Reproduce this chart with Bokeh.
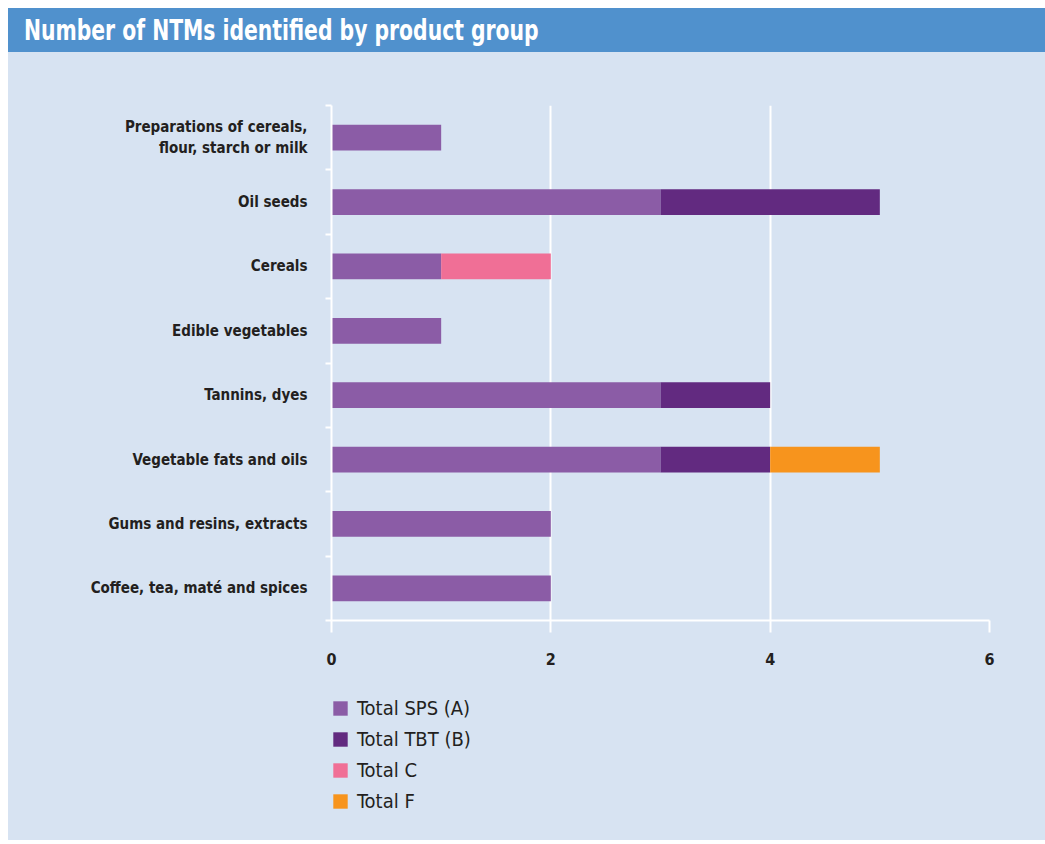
from bokeh.plotting import figure
from bokeh.models import (Range1d, LinearAxis, FixedTicker,
                          Legend, LegendItem, Div, ColumnDataSource, Grid)
from bokeh.layouts import column
from bokeh.embed import file_html
from bokeh.resources import INLINE

categories = [
    "Preparations of cereals,\nflour, starch or milk",
    "Oil seeds",
    "Cereals",
    "Edible vegetables",
    "Tannins, dyes",
    "Vegetable fats and oils",
    "Gums and resins, extracts",
    "Coffee, tea, maté and spices",
]
total_sps = [1, 3, 1, 1, 3, 3, 2, 2]
total_tbt = [0, 2, 0, 0, 1, 1, 0, 0]
total_c = [0, 0, 1, 0, 0, 0, 0, 0]
total_f = [0, 0, 0, 0, 0, 1, 0, 0]
series_names = ["Total SPS (A)", "Total TBT (B)", "Total C", "Total F"]
series_keys = ["sps", "tbt", "c", "f"]
colors = ["#8b5ca6", "#622a80", "#f06f96", "#f7941d"]
x_ticks = [0, 2, 4, 6]
title_text = "Number of NTMs identified by product group"

BG = "#d7e3f2"
TXT = "#231f20"
FONT = "DejaVu Sans Condensed"
W = 1037

n = len(categories)
centers = [n - i - 0.5 for i in range(n)]  # first category on top
source = ColumnDataSource(dict(pos=centers, sps=total_sps, tbt=total_tbt, c=total_c, f=total_f))

p = figure(width=W, height=630, output_backend="svg", toolbar_location=None,
           y_range=Range1d(0, n), x_range=Range1d(0, 6),
           y_axis_location=None, x_axis_location=None,
           min_border_left=323, min_border_right=56, min_border_top=53, min_border_bottom=62,
           background_fill_alpha=0, border_fill_color=BG, outline_line_color=None)

p.hbar_stack(series_keys, y="pos", height=0.4, color=colors, line_color=None, source=source)

# x axis
xaxis = LinearAxis(ticker=FixedTicker(ticks=x_ticks))
xaxis.axis_line_color = "white"
xaxis.axis_line_width = 2
xaxis.major_tick_line_color = "white"
xaxis.major_tick_line_width = 2
xaxis.major_tick_out = 12
xaxis.major_tick_in = 0
xaxis.minor_tick_line_color = None
xaxis.major_label_text_font = FONT
xaxis.major_label_text_font_style = "bold"
xaxis.major_label_text_font_size = "16px"
xaxis.major_label_text_color = TXT
xaxis.major_label_standoff = 20
p.add_layout(xaxis, "below")

# y boundary ticks axis (no labels)
bounds = list(range(n + 1))
tick_axis = LinearAxis(ticker=FixedTicker(ticks=bounds),
                       major_label_overrides={b: "" for b in bounds})
tick_axis.axis_line_color = "white"
tick_axis.axis_line_width = 2
tick_axis.major_tick_line_color = "white"
tick_axis.major_tick_line_width = 2
tick_axis.major_tick_out = 6
tick_axis.major_tick_in = 0
tick_axis.minor_tick_line_color = None
tick_axis.major_label_standoff = 0
p.add_layout(tick_axis, "left")

# y category labels axis
yaxis = LinearAxis(ticker=FixedTicker(ticks=centers),
                   major_label_overrides={c: lab for c, lab in zip(centers, categories)})
yaxis.axis_line_color = None
yaxis.major_tick_line_color = None
yaxis.minor_tick_line_color = None
yaxis.major_tick_out = 0
yaxis.major_tick_in = 0
yaxis.major_label_text_font = FONT
yaxis.major_label_text_font_style = "bold"
yaxis.major_label_text_font_size = "15px"
yaxis.major_label_text_color = TXT
yaxis.major_label_standoff = 18
yaxis.major_label_text_line_height = 1.15
p.add_layout(yaxis, "left")

p.xgrid.grid_line_color = None
p.ygrid.grid_line_color = None
grid = Grid(dimension=0, ticker=FixedTicker(ticks=x_ticks), grid_line_color="white", grid_line_width=2)
p.add_layout(grid)

# legend panel: legend-only renderers (zero-length proxies) carrying the series colours
lp = figure(width=W, height=158, output_backend="svg", toolbar_location=None,
            x_range=Range1d(0, 6), y_range=Range1d(0, n),
            x_axis_location=None, y_axis_location=None,
            min_border_left=318, min_border_top=14, min_border_right=0, min_border_bottom=0,
            background_fill_alpha=0, border_fill_color=BG, outline_line_color=None)
lp.xgrid.grid_line_color = None
lp.ygrid.grid_line_color = None
proxy = ColumnDataSource({k: [0] for k in ["pos"] + series_keys})
lrenderers = lp.hbar_stack(series_keys, y="pos", height=0, color=colors, line_color=None, source=proxy)
legend = Legend(items=[LegendItem(label=nm, renderers=[r]) for nm, r in zip(series_names, lrenderers)],
                location="top_left", orientation="vertical",
                background_fill_alpha=0, border_line_color=None,
                glyph_width=18, glyph_height=18, label_height=20, spacing=7,
                label_text_font=FONT, label_text_font_size="20px", label_text_color=TXT,
                label_standoff=8, padding=0, margin=0)
lp.add_layout(legend, "center")

title_div = Div(
    text=f'<div style="background-color:#5091cd;height:44px;width:{W}px;padding-left:16px;'
         f'box-sizing:border-box;overflow:hidden;">'
         f'<span style="display:inline-block;color:white;font-family:\'{FONT}\';font-weight:bold;'
         f'font-size:29px;line-height:44px;transform:scaleX(0.78);transform-origin:left center;'
         f'white-space:nowrap;">{title_text}</span></div>',
    width=W, height=44, margin=0)

layout = column(title_div, p, lp, spacing=0, margin=(8, 0, 0, 8),
                styles={"background-color": BG})
open("out.html", "w").write(file_html(layout, INLINE))
